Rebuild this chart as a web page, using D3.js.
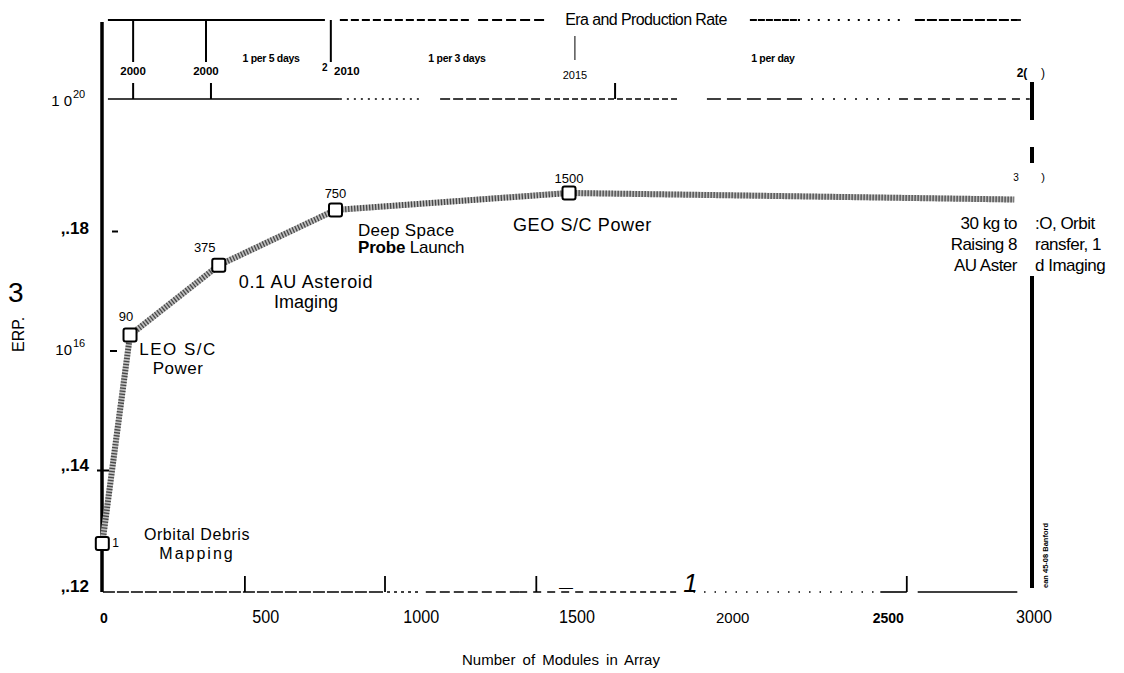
<!DOCTYPE html>
<html><head><meta charset="utf-8">
<script src="https://cdn.jsdelivr.net/npm/d3@7"></script>
<style>body{margin:0;background:#fff}svg{display:block}text{font-family:"Liberation Sans",Arial,sans-serif;fill:#000}</style>
</head><body>
<script>
// ---- data ----
const modules = [1, 90, 375, 750, 1500, 2930];
const epp = [5e12, 1.35e16, 1.9e17, 1.55e18, 2.95e18, 2.3e18];
const pointLabels = ["1", "90", "375", "750", "1500", null];
const milestones = [["Orbital Debris", "Mapping"], ["LEO S/C", "Power"], ["0.1 AU Asteroid", "Imaging"], ["Deep Space", "Probe Launch"], ["GEO S/C Power"]];
const xTickValues = [0, 500, 1000, 1500, 2000, 2500, 3000];
const xTickLabels = ["0", "500", "1000", "1500", "2000", "2500", "3000"];
const yTickValues = [1e20, 1e18, 1e16, 1e14, 1e12];
const yTickLabels = ["1 0|20", ",.18", "10|16", ",.14", ",.12"];
const eraTicks = [100, 334, 735];
const eraYears = ["2000", "2000", "2010"];
const eraTick2015 = 1519;
const rates = ["1 per 5 days", "1 per 3 days", "1 per day"];
const rateAt = [543, 1140, 2155];
const lowerEraTicks = [100, 350, 1648];
const bottomTicks = [459, 909, 1395, 2585];
const rightNoteLeft = ["30 kg to", "Raising 8", "AU Aster"];
const rightNoteRight = [":O, Orbit", "ransfer, 1", "d Imaging"];

// ---- layout ----
const W = 1124, H = 673;
const svg = d3.select("body").append("svg").attr("width", W).attr("height", H);
const x = d3.scaleLinear().domain([0, 3000]).range([102, 1036]);
const y = d3.scaleLog().domain([1e12, 1e20]).range([586, 100]);

// left axis
svg.append("line").attr("x1", 102).attr("x2", 102).attr("y1", 22).attr("y2", 592)
  .attr("stroke", "#000").attr("stroke-width", 3.5);

// y tick labels
yTickLabels.forEach((t, i) => {
  const yy = y(yTickValues[i]);
  if (t.includes("|")) {
    const [b, s] = t.split("|");
    svg.append("text").attr("x", 72).attr("y", yy + 6 + (i === 2 ? 6 : 0)).attr("text-anchor", "end")
      .attr("font-size", 15).text(b);
    svg.append("text").attr("x", 73).attr("y", yy - 2 + (i === 2 ? 6 : 0)).attr("font-size", 11).text(s);
  } else {
    svg.append("text").attr("x", 89).attr("y", yy + 6 + (i === 1 ? 6 : 0)).attr("text-anchor", "end")
      .attr("font-size", 17).attr("font-weight", "bold").text(t);
  }
});
// small y tick marks
[[1e18, 112, 118, 10], [1e16, 110, 117, 8], [1e14, 97, 115, 6]].forEach(([v, a, b, o]) => {
  svg.append("line").attr("x1", a).attr("x2", b).attr("y1", y(v) + o).attr("y2", y(v) + o)
    .attr("stroke", "#000").attr("stroke-width", 2);
});

// y title
svg.append("text").attr("x", 8).attr("y", 302).attr("font-family", "Liberation Serif, serif")
  .attr("font-size", 28).text("3");
svg.append("text").attr("transform", "translate(24,352) rotate(-90)").attr("font-size", 16).text("ERP.");

// bottom axis dashed baseline
const bottomSegs = [[3, 893, "12,2"], [893, 1021, "3,4"], [1040, 1340, "10,4"], [1340, 1600, "8,6"], [1600, 1850, "6,4"], [1900, 2500, "1.5,9"], [2500, 2585, null], [2620, 2940, null]];
bottomSegs.forEach(([a, b, d]) => {
  svg.append("line").attr("x1", x(a)).attr("x2", x(b)).attr("y1", 592).attr("y2", 592)
    .attr("stroke", "#000").attr("stroke-width", 1.6).attr("stroke-dasharray", d);
});
bottomTicks.forEach(v => {
  svg.append("line").attr("x1", x(v)).attr("x2", x(v)).attr("y1", 576).attr("y2", 592)
    .attr("stroke", "#000").attr("stroke-width", 1.8);
});
svg.append("text").attr("x", x(1890)).attr("y", 592).attr("font-family", "Liberation Serif, serif")
  .attr("font-style", "italic").attr("font-size", 26).attr("text-anchor", "middle").text("1");
svg.append("text").attr("x", x(1490)).attr("y", 592).attr("font-size", 14).attr("text-anchor", "middle").text("—");

// x tick labels (mixed scanned fonts)
const xFonts = [["Liberation Sans", "bold", 14], ["Liberation Serif", "normal", 19], ["Liberation Serif", "normal", 19], ["Liberation Serif", "normal", 19], ["DejaVu Sans", "normal", 15], ["Liberation Sans", "bold", 14], ["Liberation Serif", "normal", 19]];
xTickLabels.forEach((t, i) => {
  const cx = x(xTickValues[i]) + (i === 0 ? 2 : i === 6 ? -2 : 8);
  const narrow = (i >= 1 && i <= 3) || i === 6;
  svg.append("text").attr("x", cx).attr("y", 623)
    .attr("text-anchor", "middle").attr("font-family", xFonts[i][0]).attr("font-weight", xFonts[i][1])
    .attr("font-size", xFonts[i][2]).attr("transform", narrow ? `translate(${cx * 0.15},0) scale(0.85,1)` : null)
    .text(t);
});
svg.append("text").attr("x", 561).attr("y", 665).attr("text-anchor", "middle").attr("font-size", 15)
  .attr("word-spacing", 3).text("Number of Modules in Array");

// top era axis
const topSegs = [[19, 716, null], [764, 1182, "8,3"], [1208, 1423, "10,4"], [2081, 2242, "7,1"], [2267, 2579, "2,8"], [2611, 2955, "10,2"]];
topSegs.forEach(([a, b, d]) => {
  svg.append("line").attr("x1", x(a)).attr("x2", x(b)).attr("y1", 20).attr("y2", 20)
    .attr("stroke", "#000").attr("stroke-width", 1.8).attr("stroke-dasharray", d);
});
svg.append("text").attr("x", 646).attr("y", 25).attr("text-anchor", "middle").attr("font-size", 16)
  .attr("letter-spacing", -0.6).text("Era and Production Rate");
eraTicks.forEach((v, i) => {
  svg.append("line").attr("x1", x(v)).attr("x2", x(v)).attr("y1", 20).attr("y2", 62)
    .attr("stroke", "#000").attr("stroke-width", 2);
  svg.append("text").attr("x", x(v) + (i === 2 ? 16 : 0)).attr("y", 75).attr("text-anchor", "middle")
    .attr("font-size", 11.5).attr("font-weight", "bold").text(eraYears[i]);
});
svg.append("text").attr("x", x(735) - 6).attr("y", 71).attr("text-anchor", "middle").attr("font-size", 10).attr("font-weight", "bold").text("2");
svg.append("line").attr("x1", x(eraTick2015)).attr("x2", x(eraTick2015)).attr("y1", 36).attr("y2", 60)
  .attr("stroke", "#000").attr("stroke-width", 1);
svg.append("text").attr("x", x(eraTick2015)).attr("y", 79).attr("text-anchor", "middle").attr("font-size", 11).text("2015");
rates.forEach((t, i) => {
  svg.append("text").attr("x", x(rateAt[i])).attr("y", 62).attr("text-anchor", "middle")
    .attr("font-size", 10.5).attr("font-weight", "bold").attr("letter-spacing", -0.3).text(t);
});
svg.append("text").attr("x", 1022).attr("y", 77).attr("text-anchor", "middle").attr("font-size", 12).attr("font-weight", "bold").text("2(");
svg.append("text").attr("x", 1043).attr("y", 77).attr("text-anchor", "middle").attr("font-size", 12).text(")");

const lowerSegs = [[19, 764, null], [764, 1021, "2,5"], [1086, 1407, "10,3"], [1423, 1856, "6,3"], [1943, 2242, "14,6"], [2242, 2563, "2,9"], [2563, 2980, "8,6"]];
lowerSegs.forEach(([a, b, d]) => {
  svg.append("line").attr("x1", x(a)).attr("x2", x(b)).attr("y1", 99).attr("y2", 99)
    .attr("stroke", "#000").attr("stroke-width", 1.6).attr("stroke-dasharray", d);
});
lowerEraTicks.forEach(v => {
  svg.append("line").attr("x1", x(v)).attr("x2", x(v)).attr("y1", 83).attr("y2", 99)
    .attr("stroke", "#000").attr("stroke-width", 2);
});

// right-hand bars
[[82, 120], [147, 163], [276, 588]].forEach(([a, b]) => {
  svg.append("line").attr("x1", 1032).attr("x2", 1032).attr("y1", a).attr("y2", b)
    .attr("stroke", "#000").attr("stroke-width", 4);
});
svg.append("text").attr("x", 1016).attr("y", 181).attr("text-anchor", "middle").attr("font-size", 10).text("3");
svg.append("text").attr("x", 1043).attr("y", 181).attr("text-anchor", "middle").attr("font-size", 11).text(")");
svg.append("text").attr("transform", "translate(1048,588) rotate(-90)").attr("font-size", 7.5)
  .attr("font-weight", "bold").text("ean 45-08 Banford");

// data line (hatched look)
const line = d3.line().x((d, i) => x(modules[i])).y((d, i) => y(epp[i]));
svg.append("path").datum(epp).attr("d", line).attr("fill", "none").attr("stroke", "#bdbdbd").attr("stroke-width", 6);
svg.append("path").datum(epp).attr("d", line).attr("fill", "none").attr("stroke", "#2a2a2a").attr("stroke-width", 6)
  .attr("stroke-dasharray", "1.3,1.7").attr("opacity", 0.8);

// markers
const pts = modules.map((m, i) => ({ m, v: epp[i], lab: pointLabels[i] })).filter(d => d.lab);
svg.selectAll("rect.mk").data(pts).join("rect").attr("class", "mk")
  .attr("x", d => x(d.m) - 6.5).attr("y", d => y(d.v) - 6.5).attr("width", 13).attr("height", 13)
  .attr("rx", 2).attr("fill", "#fff").attr("stroke", "#000").attr("stroke-width", 2);

// point value labels
const labOff = [[10, 3, "start", 12], [-4, -14, "middle", 13], [-14, -13, "middle", 13], [0, -12, "middle", 13], [0, -10, "middle", 13]];
pts.forEach((d, i) => {
  const o = labOff[i];
  svg.append("text").attr("x", x(d.m) + o[0]).attr("y", y(d.v) + o[1]).attr("text-anchor", o[2])
    .attr("font-size", o[3]).text(d.lab);
});

// milestone annotations: [x, baseline, anchor, size, line gap, letter-spacing per line]
const msPos = [[197, 540, "middle", 16, 19, [0.6, 2]], [178, 355, "middle", 17, 19, [1.5, 0.5]], [306, 288, "middle", 18, 20, [0.7, 0]],
               [358, 236, "start", 17, 17, [0.3, -0.2]], [513, 231, "start", 18, 20, [0.6]]];
milestones.forEach((lines, i) => {
  const p = msPos[i];
  lines.forEach((t, j) => {
    const tx = svg.append("text").attr("x", p[0]).attr("y", p[1] + j * p[4]).attr("text-anchor", p[2])
      .attr("font-size", p[3]).attr("letter-spacing", p[5][j]);
    if (t.startsWith("Probe")) {
      tx.append("tspan").attr("font-weight", "bold").text("Probe");
      tx.append("tspan").text(t.slice(5));
    } else tx.text(t);
  });
});
rightNoteLeft.forEach((t, j) => {
  svg.append("text").attr("x", 1017).attr("y", 229 + j * 21).attr("text-anchor", "end")
    .attr("font-size", 17).attr("letter-spacing", -0.5).text(t);
});
rightNoteRight.forEach((t, j) => {
  svg.append("text").attr("x", 1035).attr("y", 229 + j * 21).attr("font-size", 17)
    .attr("letter-spacing", -0.5).text(t);
});
</script>
</body></html>
